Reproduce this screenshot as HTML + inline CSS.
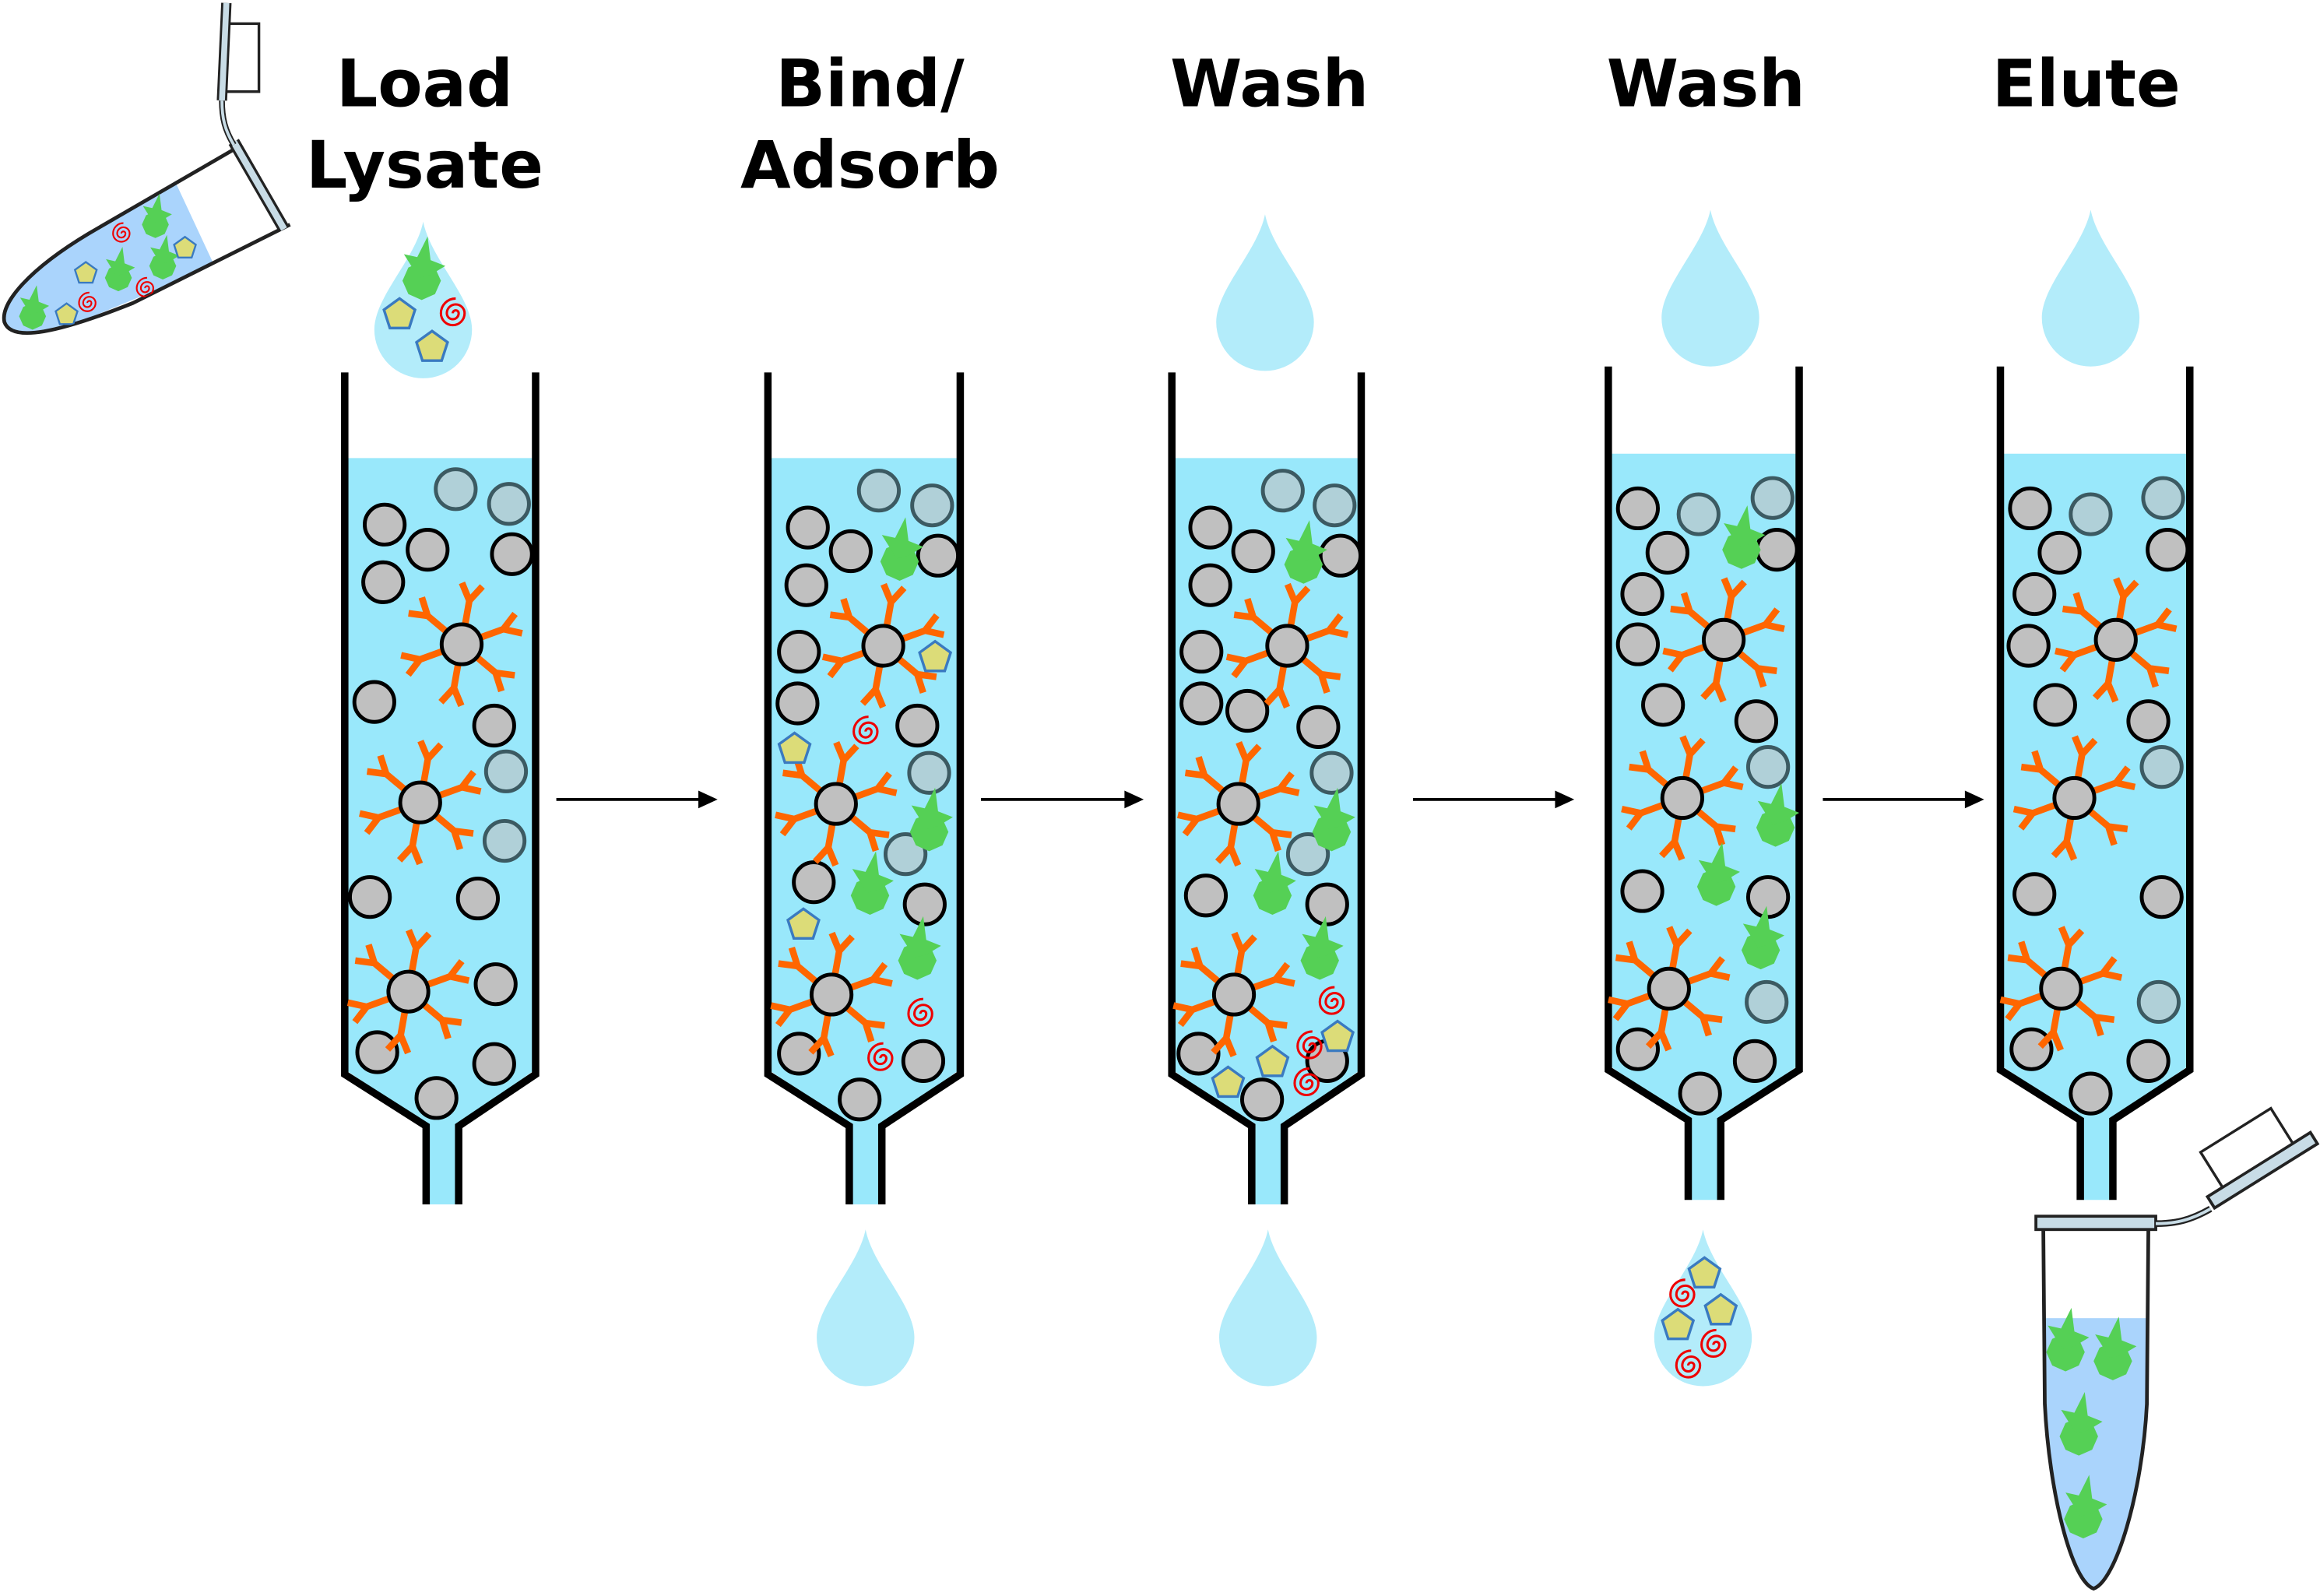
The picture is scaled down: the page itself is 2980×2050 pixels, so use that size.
<!DOCTYPE html>
<html><head><meta charset="utf-8"><style>html,body{margin:0;padding:0;background:#fff}svg{display:block}</style></head>
<body>
<svg width="2980" height="2050" viewBox="0 0 1568 1080" preserveAspectRatio="none" xmlns="http://www.w3.org/2000/svg">
<defs>
<g id="bead"><circle r="13.5" fill="#c0c0c0" stroke="#000" stroke-width="2.6"/></g>
<g id="pbead"><circle r="13.5" fill="#b0d0d8" stroke="#3c5a62" stroke-width="2.6"/></g>
<g id="arm"><path d="M0 0 L0 -30 M0 -30 L-7 -41 M0 -30 L7 -41" stroke="#ff6600" stroke-width="4.5" fill="none"/></g>
<g id="ab">
<use href="#arm" transform="rotate(10)"/><use href="#arm" transform="rotate(70)"/><use href="#arm" transform="rotate(130)"/>
<use href="#arm" transform="rotate(190)"/><use href="#arm" transform="rotate(250)"/><use href="#arm" transform="rotate(310)"/>
<circle r="13.5" fill="#c0c0c0" stroke="#000" stroke-width="2.6"/></g>
<g id="grn"><polygon points="13,0 9,9 0,13 -9,9 -13,0 -9,-9 0,-13 9,-9" fill="#55d055"/><polygon points="-12,-18 -3,-16 4,-30 6,-14 16,-10 6,-4 -2,-2" fill="#55d055"/></g>
<g id="pent"><polygon points="0,-11 10.5,-3.4 6.5,9 -6.5,9 -10.5,-3.4" fill="#dcdc78" stroke="#3a7ac0" stroke-width="1.8"/></g>
<g id="spir"><path d="M0 0 a2 2 0 0 1 4 0 a4 4 0 0 1 -8 0 a6 6 0 0 1 12 0 a8 8 0 0 1 -16 0 a10 10 0 0 1 10 -10" stroke="#e00" stroke-width="1.6" fill="none"/></g>
<path id="drop" d="M0 0 C5 25 33 51 33 73 A33 33 0 0 1 -33 73 C-33 51 -5 25 0 0Z" fill="#b3ecfa"/>
</defs>

<g font-family="DejaVu Sans, Liberation Sans, sans-serif" font-weight="bold" font-size="44" text-anchor="middle" fill="#000">
<text x="287" y="72">Load</text><text x="287" y="127">Lysate</text>
<text x="588" y="72">Bind/</text><text x="588" y="127">Adsorb</text>
<text x="858" y="72">Wash</text>
<text x="1153" y="72">Wash</text>
<text x="1410" y="72">Elute</text>
</g>

<g stroke="#000" stroke-width="2">
<line x1="376" y1="541" x2="474" y2="541"/><line x1="663" y1="541" x2="762" y2="541"/>
<line x1="955" y1="541" x2="1053" y2="541"/><line x1="1232" y1="541" x2="1330" y2="541"/></g>
<g fill="#000">
<polygon points="485,541 472,535 472,547"/><polygon points="773,541 760,535 760,547"/>
<polygon points="1064,541 1051,535 1051,547"/><polygon points="1341,541 1328,535 1328,547"/></g>

<g>
<path d="M235 310 H360 V725 L308 762 V815 H290 V762 L235 725Z" fill="#99e8fb"/>
<path d="M233 252 V727 L288 762 V815 M362 252 V727 L310 762 V815" stroke="#000" stroke-width="5" fill="none"/>
<path d="M521 310 H647 V725 L594 762 V815 H576 V762 L521 725Z" fill="#99e8fb"/>
<path d="M519 252 V727 L574 762 V815 M649 252 V727 L596 762 V815" stroke="#000" stroke-width="5" fill="none"/>
<path d="M794 310 H918 V725 L866 762 V815 H848 V762 L794 725Z" fill="#99e8fb"/>
<path d="M792 252 V727 L846 762 V815 M920 252 V727 L868 762 V815" stroke="#000" stroke-width="5" fill="none"/>
<path d="M1089 307 H1214 V722 L1161 758 V812 H1143 V758 L1089 722Z" fill="#99e8fb"/>
<path d="M1087 248 V724 L1141 758 V812 M1216 248 V724 L1163 758 V812" stroke="#000" stroke-width="5" fill="none"/>
<path d="M1354 307 H1478 V722 L1426 758 V812 H1408 V758 L1354 722Z" fill="#99e8fb"/>
<path d="M1352 248 V724 L1406 758 V812 M1480 248 V724 L1428 758 V812" stroke="#000" stroke-width="5" fill="none"/>
</g>

<!-- col1 -->
<use href="#pbead" x="308" y="331"/><use href="#pbead" x="344" y="341"/><use href="#pbead" x="342" y="522"/><use href="#pbead" x="341" y="569"/>
<use href="#bead" x="260" y="355"/><use href="#bead" x="289" y="372"/><use href="#bead" x="259" y="394"/><use href="#bead" x="346" y="375"/>
<use href="#bead" x="253" y="475"/><use href="#bead" x="334" y="491"/><use href="#bead" x="250" y="607"/><use href="#bead" x="323" y="608"/>
<use href="#bead" x="335" y="666"/><use href="#bead" x="255" y="712"/><use href="#bead" x="334" y="720"/><use href="#bead" x="295" y="743"/>
<use href="#ab" x="312" y="436"/><use href="#ab" x="284" y="543"/><use href="#ab" x="276" y="671"/>

<!-- col2 -->
<use href="#pbead" x="594" y="332"/><use href="#pbead" x="630" y="342"/><use href="#pbead" x="628" y="523"/><use href="#pbead" x="612" y="578"/>
<use href="#bead" x="546" y="357"/><use href="#bead" x="575" y="373"/><use href="#bead" x="545" y="396"/><use href="#bead" x="634" y="376"/>
<use href="#bead" x="540" y="441"/><use href="#bead" x="539" y="476"/><use href="#bead" x="620" y="491"/><use href="#bead" x="550" y="597"/>
<use href="#bead" x="625" y="612"/><use href="#bead" x="624" y="718"/><use href="#bead" x="540" y="713"/><use href="#bead" x="581" y="744"/>
<use href="#ab" x="597" y="437"/><use href="#ab" x="565" y="544"/><use href="#ab" x="562" y="673"/>
<use href="#grn" x="608" y="380"/><use href="#grn" x="628" y="563"/><use href="#grn" x="588" y="606"/><use href="#grn" x="620" y="650"/>
<use href="#pent" x="632" y="445"/><use href="#pent" x="537" y="507"/><use href="#pent" x="543" y="626"/>
<use href="#spir" x="585" y="495"/><use href="#spir" x="622" y="686"/><use href="#spir" x="595" y="716"/>

<!-- col3 -->
<use href="#pbead" x="867" y="332"/><use href="#pbead" x="902" y="342"/><use href="#pbead" x="900" y="523"/><use href="#pbead" x="884" y="578"/>
<use href="#bead" x="818" y="357"/><use href="#bead" x="847" y="373"/><use href="#bead" x="818" y="396"/><use href="#bead" x="906" y="376"/>
<use href="#bead" x="812" y="441"/><use href="#bead" x="812" y="476"/><use href="#bead" x="843" y="481"/><use href="#bead" x="891" y="492"/>
<use href="#bead" x="815" y="606"/><use href="#bead" x="897" y="612"/><use href="#bead" x="897" y="718"/><use href="#bead" x="810" y="713"/><use href="#bead" x="853" y="744"/>
<use href="#ab" x="870" y="437"/><use href="#ab" x="837" y="544"/><use href="#ab" x="834" y="673"/>
<use href="#grn" x="881" y="382"/><use href="#grn" x="900" y="563"/><use href="#grn" x="860" y="606"/><use href="#grn" x="892" y="650"/>
<use href="#pent" x="904" y="702"/><use href="#pent" x="860" y="719"/><use href="#pent" x="830" y="733"/>
<use href="#spir" x="900" y="678"/><use href="#spir" x="885" y="708"/><use href="#spir" x="883" y="733"/>

<!-- col4 -->
<use href="#pbead" x="1148" y="348"/><use href="#pbead" x="1198" y="337"/><use href="#pbead" x="1195" y="519"/><use href="#pbead" x="1194" y="678"/>
<use href="#bead" x="1107" y="344"/><use href="#bead" x="1127" y="374"/><use href="#bead" x="1110" y="402"/><use href="#bead" x="1107" y="436"/>
<use href="#bead" x="1201" y="372"/><use href="#bead" x="1124" y="477"/><use href="#bead" x="1187" y="488"/><use href="#bead" x="1110" y="603"/>
<use href="#bead" x="1195" y="607"/><use href="#bead" x="1107" y="710"/><use href="#bead" x="1186" y="718"/><use href="#bead" x="1149" y="740"/>
<use href="#ab" x="1165" y="433"/><use href="#ab" x="1137" y="540"/><use href="#ab" x="1128" y="669"/>
<use href="#grn" x="1177" y="372"/><use href="#grn" x="1200" y="560"/><use href="#grn" x="1160" y="600"/><use href="#grn" x="1190" y="643"/>

<!-- col5 -->
<use href="#pbead" x="1413" y="348"/><use href="#pbead" x="1462" y="337"/><use href="#pbead" x="1461" y="519"/><use href="#pbead" x="1459" y="678"/>
<use href="#bead" x="1372" y="344"/><use href="#bead" x="1392" y="374"/><use href="#bead" x="1375" y="402"/><use href="#bead" x="1371" y="437"/>
<use href="#bead" x="1465" y="372"/><use href="#bead" x="1389" y="477"/><use href="#bead" x="1452" y="488"/><use href="#bead" x="1375" y="605"/>
<use href="#bead" x="1461" y="607"/><use href="#bead" x="1373" y="710"/><use href="#bead" x="1452" y="718"/><use href="#bead" x="1413" y="740"/>
<use href="#ab" x="1430" y="433"/><use href="#ab" x="1402" y="540"/><use href="#ab" x="1393" y="669"/>

<!-- drops -->
<use href="#drop" x="286" y="150"/>
<use href="#grn" x="285" y="190"/>
<use href="#pent" x="270" y="213"/><use href="#pent" x="292" y="235"/><use href="#spir" x="306" y="212"/>
<use href="#drop" x="855" y="145"/><use href="#drop" x="1156" y="142"/><use href="#drop" x="1413" y="142"/>
<use href="#drop" x="585" y="832"/><use href="#drop" x="857" y="832"/><use href="#drop" x="1151" y="832"/>
<use href="#pent" x="1152" y="862"/><use href="#pent" x="1163" y="887"/><use href="#pent" x="1134" y="897"/>
<use href="#spir" x="1137" y="876"/><use href="#spir" x="1158" y="910"/><use href="#spir" x="1141" y="924"/>

<!-- top-left tube -->
<clipPath id="tb1"><path d="M160 100 L60 158 C20 182 0 205 3 218 C8 232 40 225 90 205 L196 152Z"/></clipPath>
<polygon clip-path="url(#tb1)" points="0,180 0,240 145,180 118,122 40,160" fill="#aad4fc"/>
<path d="M160 100 L60 158 C20 182 0 205 3 218 C8 232 40 225 90 205 L196 152" fill="none" stroke="#222" stroke-width="2.5"/>
<g clip-path="url(#tb1)">
<g transform="translate(105 152) scale(0.7)"><use href="#grn"/></g>
<g transform="translate(110 180) scale(0.7)"><use href="#grn"/></g>
<g transform="translate(80 188) scale(0.7)"><use href="#grn"/></g>
<g transform="translate(22 214) scale(0.7)"><use href="#grn"/></g>
<g transform="translate(125 168) scale(0.7)"><use href="#pent"/></g>
<g transform="translate(58 185) scale(0.7)"><use href="#pent"/></g>
<g transform="translate(45 213) scale(0.7)"><use href="#pent"/></g>
<g transform="translate(82 158) scale(0.7)"><use href="#spir"/></g>
<g transform="translate(59 205) scale(0.7)"><use href="#spir"/></g>
<g transform="translate(98 195) scale(0.7)"><use href="#spir"/></g>
</g>
<line x1="158" y1="96" x2="192" y2="155" stroke="#222" stroke-width="8"/>
<line x1="158" y1="96" x2="192" y2="155" stroke="#c8dce6" stroke-width="4.5"/>
<path d="M158 98 C152 88 150 80 150 68" stroke="#222" stroke-width="4" fill="none"/>
<path d="M158 98 C152 88 150 80 150 68" stroke="#c8dce6" stroke-width="2" fill="none"/>
<rect x="151" y="16" width="24" height="46" fill="#fff" stroke="#222" stroke-width="1.8"/>
<line x1="153" y1="2" x2="150" y2="68" stroke="#222" stroke-width="7"/>
<line x1="153" y1="2" x2="150" y2="68" stroke="#c8dce6" stroke-width="4"/>

<!-- bottom-right tube -->
<clipPath id="tb2"><path d="M1381 832 L1382 950 C1385 1010 1400 1070 1415 1075 C1430 1070 1448 1010 1451 950 L1452 832Z"/></clipPath>
<rect clip-path="url(#tb2)" x="1375" y="892" width="85" height="190" fill="#aad4fc"/>
<g clip-path="url(#tb2)">
<use href="#grn" x="1396" y="915"/><use href="#grn" x="1428" y="921"/><use href="#grn" x="1405" y="972"/><use href="#grn" x="1408" y="1028"/>
</g>
<path d="M1381 832 L1382 950 C1385 1010 1400 1070 1415 1075 C1430 1070 1448 1010 1451 950 L1452 832" fill="none" stroke="#222" stroke-width="2.5"/>
<rect x="1376" y="823" width="81" height="9" fill="#c8dce6" stroke="#222" stroke-width="2"/>
<path d="M1457 828 C1470 828 1480 826 1494 818" stroke="#222" stroke-width="4.5" fill="none"/>
<path d="M1457 828 C1470 828 1480 826 1494 818" stroke="#c8dce6" stroke-width="2" fill="none"/>
<g transform="rotate(-32 1528 792)">
<rect x="1488" y="788" width="82" height="9" fill="#c8dce6" stroke="#222" stroke-width="2"/>
<rect x="1500" y="760" width="56" height="28" fill="#fff" stroke="#222" stroke-width="1.8"/>
</g>
</svg>
</body></html>
